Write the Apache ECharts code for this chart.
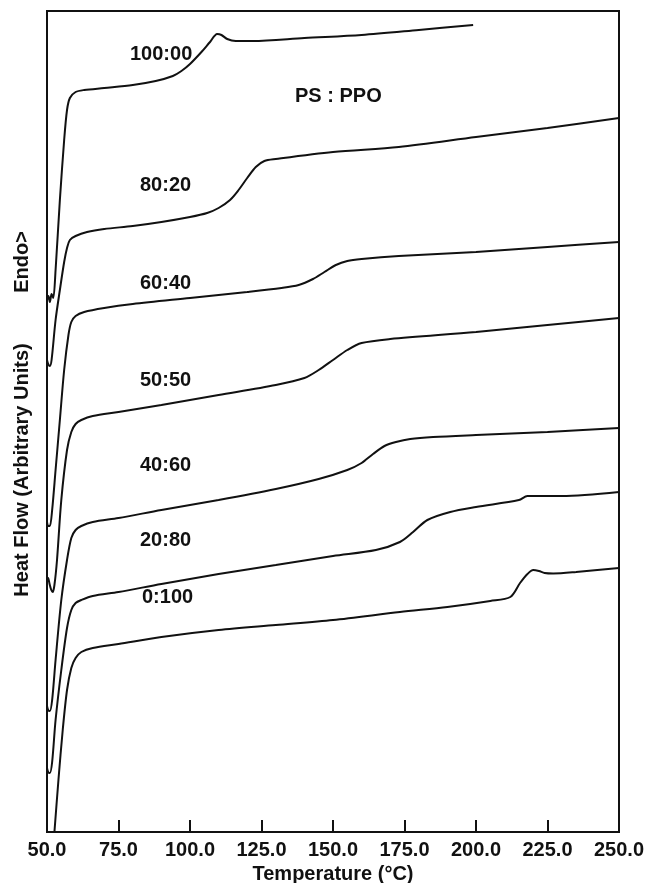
<!DOCTYPE html>
<html>
<head>
<meta charset="utf-8">
<title>DSC thermograms of PS : PPO blends</title>
<script src="https://cdn.jsdelivr.net/npm/echarts@6/dist/echarts.min.js"></script>
<style>
  html, body { margin: 0; padding: 0; background: #fff; }
  #chart { width: 647px; height: 883px; }
</style>
</head>
<body>
<div id="chart"></div>
<script>
// Temperature axis ticks (°C)
const tempTicks = [50, 75, 100, 125, 150, 175, 200, 225, 250];

// Blend compositions (PS : PPO)
const compositions = ['100:00', '80:20', '60:40', '50:50', '40:60', '20:80', '0:100'];

// Heat flow traces, [temperature °C, heat flow (arbitrary units)]
const ps100 = [
  [50.0, 53.2], [50.5, 53.6], [51.0, 53.0], [51.6, 53.8], [52.2, 53.4], [53.0, 56.2],
  [54.5, 63.2], [56.0, 69.2], [57.0, 72.2], [58.0, 73.4], [60.0, 74.0], [63.0, 74.2],
  [70.0, 74.4], [80.0, 74.7], [88.0, 75.1], [94.0, 75.6], [97.0, 76.1], [100.0, 76.8],
  [104.0, 78.0], [107.0, 79.0], [109.5, 79.8], [111.0, 79.7], [113.0, 79.3], [116.0, 79.1],
  [122.0, 79.1], [140.0, 79.4], [160.0, 79.7], [180.0, 80.2], [199.0, 80.7]
];
const ps80 = [
  [50.0, 47.2], [50.4, 46.8], [51.0, 46.6], [51.6, 47.2], [53.0, 51.2], [54.5, 54.2],
  [56.0, 57.0], [57.0, 58.4], [58.0, 59.2], [60.0, 59.6], [64.0, 60.0], [70.0, 60.3],
  [80.0, 60.6], [90.0, 61.0], [100.0, 61.5], [106.0, 61.9], [110.0, 62.4], [114.0, 63.2],
  [117.0, 64.2], [120.0, 65.4], [123.0, 66.5], [126.0, 67.1], [130.0, 67.3], [150.0, 68.0],
  [173.0, 68.5], [200.0, 69.5], [225.0, 70.4], [250.0, 71.4]
];
const ps60 = [
  [50.0, 31.0], [50.4, 30.6], [51.0, 30.6], [51.8, 32.2], [53.0, 36.2], [54.5, 41.2],
  [56.0, 46.2], [57.5, 49.7], [58.5, 51.0], [60.0, 51.6], [63.0, 52.0], [70.0, 52.4],
  [80.0, 52.8], [100.0, 53.4], [120.0, 54.0], [132.0, 54.4], [138.0, 54.7], [143.0, 55.3],
  [147.0, 56.0], [151.0, 56.7], [155.0, 57.1], [160.0, 57.3], [173.0, 57.6], [200.0, 58.0],
  [225.0, 58.5], [250.0, 59.0]
];
const ps50 = [
  [50.0, 25.0], [50.4, 25.4], [50.9, 24.8], [51.5, 24.2], [52.0, 24.0], [52.6, 24.7],
  [53.5, 27.2], [55.0, 33.2], [57.0, 38.2], [58.5, 40.0], [60.0, 40.8], [62.0, 41.2],
  [66.0, 41.6], [75.0, 42.0], [90.0, 42.7], [110.0, 43.7], [130.0, 44.7], [140.0, 45.4],
  [145.0, 46.2], [150.0, 47.2], [155.0, 48.2], [160.0, 48.9], [170.0, 49.3], [200.0, 50.0],
  [225.0, 50.7], [250.0, 51.4]
];
const ps40 = [
  [50.0, 12.6], [50.4, 12.2], [51.0, 12.1], [51.8, 13.2], [53.0, 17.2], [55.0, 23.2],
  [57.0, 27.2], [58.5, 29.4], [60.0, 30.2], [62.0, 30.6], [66.0, 31.0], [75.0, 31.4],
  [90.0, 32.2], [110.0, 33.2], [130.0, 34.3], [145.0, 35.3], [155.0, 36.2], [160.0, 36.9],
  [164.0, 37.8], [168.0, 38.6], [172.0, 39.0], [177.0, 39.3], [185.0, 39.5], [200.0, 39.7],
  [225.0, 40.0], [250.0, 40.4]
];
const ps20 = [
  [50.0, 6.4], [50.4, 6.0], [51.0, 5.9], [51.8, 7.0], [53.0, 11.2], [55.0, 16.2],
  [57.0, 20.4], [58.5, 22.2], [60.0, 22.9], [62.0, 23.2], [66.0, 23.6], [75.0, 24.0],
  [90.0, 24.8], [110.0, 25.8], [130.0, 26.7], [150.0, 27.6], [165.0, 28.2], [173.4, 29.0],
  [178.0, 30.0], [183.0, 31.2], [191.0, 32.0], [200.0, 32.5], [215.0, 33.2], [218.0, 33.6],
  [230.0, 33.6], [250.0, 34.0]
];
const ps0 = [
  [52.6, 0.0], [54.0, 5.2], [55.5, 10.2], [57.0, 14.2], [58.5, 16.4], [60.0, 17.4],
  [62.0, 18.0], [66.0, 18.4], [75.0, 18.8], [90.0, 19.5], [110.0, 20.2], [130.0, 20.7],
  [150.0, 21.2], [173.4, 22.0], [190.0, 22.5], [205.0, 23.1], [212.0, 23.5], [215.4, 24.9],
  [218.0, 25.8], [220.0, 26.2], [222.0, 26.1], [224.0, 25.9], [227.0, 25.85], [235.0, 26.0],
  [250.0, 26.4]
];
const traces = [ps100, ps80, ps60, ps50, ps40, ps20, ps0];

const FONT = '"Liberation Sans", Arial, Helvetica, sans-serif';
const INK = '#111';

const chart = echarts.init(document.getElementById('chart'), null, { renderer: 'canvas' });

// Composition labels placed beside each trace
const labelSpots = [
  { left: 130, top: 54 }, { left: 140, top: 185 }, { left: 140, top: 283 },
  { left: 140, top: 380 }, { left: 140, top: 465 }, { left: 140, top: 540 },
  { left: 142, top: 597 }
];

const textStyle = (t) => ({ text: t, fill: INK, font: 'bold 20px ' + FONT, textVerticalAlign: 'middle' });

const graphics = compositions.map((c, i) => ({
  type: 'text', x: labelSpots[i].left, y: labelSpots[i].top, style: textStyle(c)
}));
graphics.push({ type: 'text', x: 295, y: 96, style: textStyle('PS : PPO') });
graphics.push({
  type: 'text', x: 22, y: 470, rotation: Math.PI / 2,
  style: { text: 'Heat Flow (Arbitrary Units)', fill: INK, font: 'bold 20px ' + FONT,
           textAlign: 'center', textVerticalAlign: 'middle' }
});
graphics.push({
  type: 'text', x: 22, y: 262, rotation: Math.PI / 2,
  style: { text: 'Endo>', fill: INK, font: 'bold 20px ' + FONT,
           textAlign: 'center', textVerticalAlign: 'middle' }
});

chart.setOption({
  animation: false,
  backgroundColor: '#fff',
  grid: {
    left: 47, right: 28, top: 11, bottom: 51,
    outerBoundsMode: 'none', containLabel: false,
    show: true, borderColor: INK, borderWidth: 2, backgroundColor: 'transparent'
  },
  xAxis: {
    type: 'value', min: 50, max: 250, interval: 25,
    name: 'Temperature (°C)', nameLocation: 'middle', nameGap: 30,
    nameTextStyle: { fontFamily: FONT, fontWeight: 'bold', fontSize: 20, color: INK },
    axisLine: { show: true, lineStyle: { color: INK, width: 2 } },
    axisTick: { show: true, inside: true, length: 12, lineStyle: { color: INK, width: 2 } },
    splitLine: { show: false },
    axisLabel: {
      fontFamily: FONT, fontWeight: 'bold', fontSize: 20, color: INK, margin: 8,
      formatter: (v) => tempTicks.includes(v) ? v.toFixed(1) : ''
    }
  },
  yAxis: {
    type: 'value', min: 0, max: 82.1,
    show: false, splitLine: { show: false }
  },
  series: traces.map((d, i) => ({
    type: 'line', name: compositions[i], data: d,
    showSymbol: false, smooth: 0.3,
    lineStyle: { color: INK, width: 2 }, silent: true
  })),
  graphic: graphics
});
</script>
</body>
</html>
